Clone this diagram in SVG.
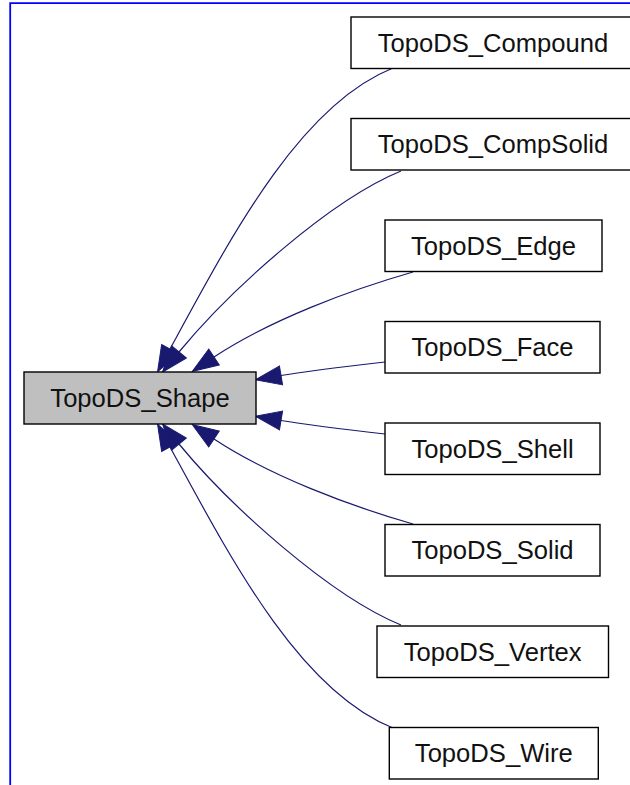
<svg xmlns="http://www.w3.org/2000/svg" width="630" height="785" viewBox="0 0 630 785">
<style>
.node rect{fill:#ffffff;stroke:#000000;stroke-width:1.4}
.node.root rect{fill:#bfbfbf}
.node text{font-family:"Liberation Sans",Arial,sans-serif;font-size:25.6px;fill:#111111;text-anchor:middle}
.edges path{fill:none;stroke:#191970;stroke-width:1.2;marker-end:url(#arrow)}
</style>
<defs>
<marker id="arrow" markerUnits="userSpaceOnUse" viewBox="0 -10 28 20" refX="0" refY="0" markerWidth="28" markerHeight="20" orient="auto" overflow="visible">
<path d="M0,-9.5 L26,0 L0,9.5 Z" fill="#191970" stroke="#191970" stroke-width="1"/>
</marker>
</defs>
<rect x="0" y="0" width="630" height="785" fill="#ffffff"/>
<path d="M10.2,785 V3.2 H630" fill="none" stroke="#0000ff" stroke-width="1.8"/>
<g class="edges" id="edges">
<path d="M393,68 C300,105 232,235 170,349"/>
<path d="M401,171 C330,200 230,290 179,352"/>
<path d="M413,272 C350,290 270,320 214,357"/>
<path d="M385,362 C350,366 308,371 281,375.5"/>
<path d="M385,434 C350,430 308,425 281,420.5"/>
<path d="M413,524 C350,506 270,476 214,439"/>
<path d="M401,625 C330,596 230,506 179,444"/>
<path d="M393,728 C300,691 232,561 170,447"/>
</g>
<g class="node root" id="node-TopoDS_Shape">
<rect x="24" y="372" width="232" height="52"/>
<text x="140" y="406.7">TopoDS_Shape</text>
</g>
<g class="node" id="node-TopoDS_Compound">
<rect x="351" y="17" width="290" height="51.5"/>
<text x="493" y="51.7">TopoDS_Compound</text>
</g>
<g class="node" id="node-TopoDS_CompSolid">
<rect x="351" y="118.5" width="290" height="51.5"/>
<text x="493" y="153.2">TopoDS_CompSolid</text>
</g>
<g class="node" id="node-TopoDS_Edge">
<rect x="385" y="220" width="217" height="51.5"/>
<text x="493.5" y="254.7">TopoDS_Edge</text>
</g>
<g class="node" id="node-TopoDS_Face">
<rect x="385" y="321.5" width="215" height="51.5"/>
<text x="492.5" y="356.2">TopoDS_Face</text>
</g>
<g class="node" id="node-TopoDS_Shell">
<rect x="385" y="423" width="215" height="51.5"/>
<text x="492.5" y="457.7">TopoDS_Shell</text>
</g>
<g class="node" id="node-TopoDS_Solid">
<rect x="385" y="524.5" width="215" height="51.5"/>
<text x="492.5" y="559.2">TopoDS_Solid</text>
</g>
<g class="node" id="node-TopoDS_Vertex">
<rect x="377" y="626" width="231.5" height="51.5"/>
<text x="492.7" y="660.7">TopoDS_Vertex</text>
</g>
<g class="node" id="node-TopoDS_Wire">
<rect x="389.3" y="727.5" width="209" height="51.5"/>
<text x="493.8" y="762.2">TopoDS_Wire</text>
</g>
</svg>
